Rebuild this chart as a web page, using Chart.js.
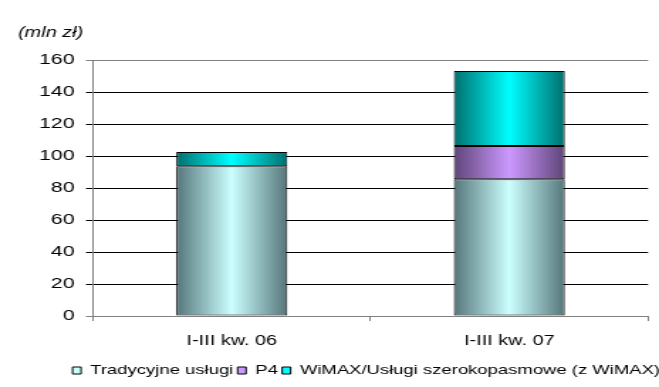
<!DOCTYPE html>
<html>
<head>
<meta charset="utf-8">
<script src="https://cdn.jsdelivr.net/npm/chart.js@4/dist/chart.umd.min.js"></script>
<style>
  html, body { margin: 0; padding: 0; background: #fff; overflow: hidden; }
  #wrap { width: 659px; height: 387px; overflow: hidden; }
  /* chart is drawn narrow and widened horizontally */
  #c { display: block; transform: scaleX(1.4203); transform-origin: 0 0; }
</style>
</head>
<body>
<div id="wrap"><canvas id="c" width="464" height="387"></canvas></div>
<script>
// Revenue by segment (mln zł)
const categories = ['I-III kw. 06', 'I-III kw. 07'];
const seriesNames = ['Tradycyjne usługi', 'P4', 'WiMAX/Usługi szerokopasmowe (z WiMAX)'];
const traditional = [93.6, 85.4];
const p4 = [null, 20.8];
const wimax = [8.9, 46.9];
const yMin = 0, yMax = 160, yStep = 20;
const unitLabel = '(mln zł)';

const FONT = "'Liberation Sans', Arial, sans-serif";

// edge / centre colours of each segment's horizontal shading
const shades = [
  { edge: '#55767a', mid: '#ccffff' },
  { edge: '#5f4478', mid: '#cc99ff' },
  { edge: '#006e6e', mid: '#00ffff' }
];

function barFill(ctx) {
  const chart = ctx.chart;
  const s = shades[ctx.datasetIndex];
  const xs = chart.scales && chart.scales.x;
  if (!chart.chartArea || !xs || ctx.dataIndex === undefined) return s.mid;
  const cx = xs.getPixelForValue(ctx.dataIndex);
  const half = (xs.width / categories.length) * 0.4 / 2;
  const g = chart.ctx.createLinearGradient(cx - half, 0, cx + half, 0);
  g.addColorStop(0, s.edge);
  g.addColorStop(0.5, s.mid);
  g.addColorStop(1, s.edge);
  return g;
}

const unitTitle = {
  id: 'unitTitle',
  afterDraw(chart) {
    const c = chart.ctx;
    c.save();
    c.font = 'italic 14px ' + FONT;
    c.fillStyle = '#000';
    c.textAlign = 'left';
    c.textBaseline = 'middle';
    c.fillText(unitLabel, 12.7, 33);
    c.restore();
  }
};

const seriesData = [traditional, p4, wimax];

new Chart(document.getElementById('c'), {
  type: 'bar',
  data: {
    labels: categories,
    datasets: seriesData.map((d, i) => ({
      label: seriesNames[i],
      data: d,
      backgroundColor: barFill,
      borderColor: '#000',
      borderWidth: 1,
      borderSkipped: false,
      categoryPercentage: 0.8,
      barPercentage: 0.5
    }))
  },
  options: {
    responsive: false,
    animation: false,
    devicePixelRatio: 1,
    layout: { padding: { top: 60, left: 19.5, right: -3.7, bottom: 0 } },
    plugins: {
      tooltip: { enabled: false },
      title: { display: false },
      legend: {
        position: 'bottom',
        align: 'end',
        labels: {
          color: '#000',
          font: { family: FONT, size: 13 },
          boxWidth: 6,
          boxHeight: 7,
          padding: 3,
          generateLabels(chart) {
            const items = Chart.defaults.plugins.legend.labels.generateLabels(chart);
            items.forEach((it, i) => {
              it.fillStyle = shades[i].mid;
              it.strokeStyle = '#000';
              it.lineWidth = 1;
            });
            return items;
          }
        }
      }
    },
    scales: {
      x: {
        stacked: true,
        grid: {
          offset: true,
          drawOnChartArea: false,
          drawTicks: true,
          tickLength: 5,
          color: '#808080'
        },
        border: { display: true, color: '#808080', width: 1 },
        ticks: { color: '#000', font: { family: FONT, size: 14 }, padding: 12, maxRotation: 0 },
        afterFit(scale) { scale.height = 45; }
      },
      y: {
        stacked: true,
        min: yMin,
        max: yMax,
        grid: {
          drawTicks: true,
          tickLength: 5,
          color: (ctx) => (ctx.tick && (ctx.tick.value === yMax || ctx.tick.value === yMin)) ? '#808080' : '#000',
          lineWidth: 1
        },
        border: { display: true, color: '#808080', width: 1 },
        ticks: { color: '#000', font: { family: FONT, size: 15 }, padding: 8, stepSize: yStep }
      },
      // empty right-hand spacer keeping the plot clear of the right edge
      yRight: {
        position: 'right',
        display: true,
        grid: { display: false, drawTicks: false },
        border: { display: false },
        ticks: { display: false },
        afterFit(scale) { scale.width = 11.4; }
      }
    }
  },
  plugins: [unitTitle]
});
</script>
</body>
</html>
